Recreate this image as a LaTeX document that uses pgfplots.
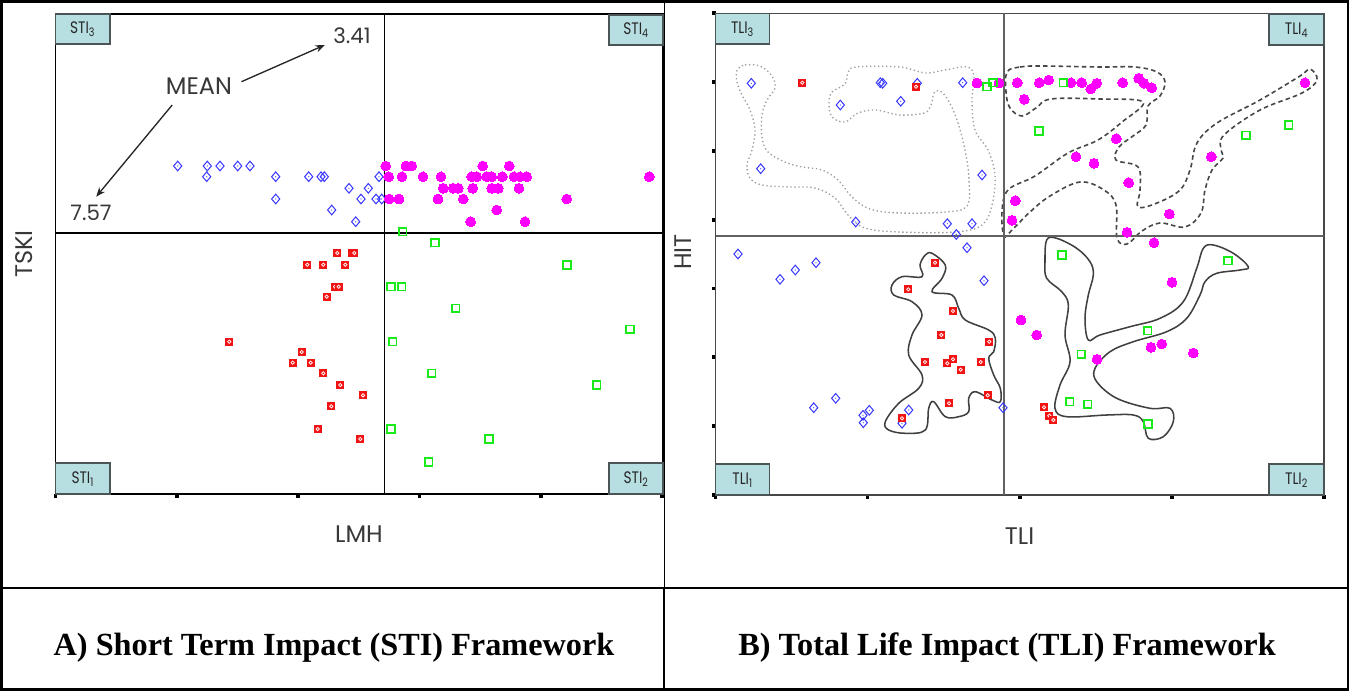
\documentclass[border=0pt]{standalone}
\usepackage{fontspec}
\setmainfont{Liberation Serif}
\newfontfamily\gothic{Poppins}
\usepackage{pgfplots}
\pgfplotsset{compat=1.18}
\usetikzlibrary{arrows.meta}

\definecolor{mblue}{RGB}{55,55,255}
\definecolor{mmag}{RGB}{255,0,255}
\definecolor{mred}{RGB}{240,20,20}
\definecolor{mgreen}{RGB}{25,235,25}
\definecolor{boxfill}{RGB}{183,222,225}
\definecolor{boxdraw}{RGB}{75,85,85}

\pgfdeclareplotmark{bdiam}{%
  \pgfpathmoveto{\pgfqpoint{0pt}{\pgfplotmarksize}}%
  \pgfpathlineto{\pgfqpoint{.85\pgfplotmarksize}{0pt}}%
  \pgfpathlineto{\pgfqpoint{0pt}{-\pgfplotmarksize}}%
  \pgfpathlineto{\pgfqpoint{-.85\pgfplotmarksize}{0pt}}%
  \pgfpathclose
  \pgfusepathqstroke
  \pgfpathcircle{\pgfpointorigin}{.45pt}%
  \pgfusepathqfill
}
\pgfdeclareplotmark{rsq}{%
  \pgfpathrectangle{\pgfqpoint{-\pgfplotmarksize}{-\pgfplotmarksize}}{\pgfqpoint{2\pgfplotmarksize}{2\pgfplotmarksize}}%
  \pgfusepathqfill
  \pgfscope
  \pgfsetstrokecolor{white}%
  \pgfsetlinewidth{.55pt}%
  \pgfpathcircle{\pgfpointorigin}{.42\pgfplotmarksize}%
  \pgfusepathqstroke
  \endpgfscope
}

\pgfplotsset{
  panel/.style={scale only axis, anchor=center, y dir=reverse,
    xticklabel=\empty, yticklabel=\empty, tick align=outside,
    major tick length=2.8pt, tick style={line width=2.8pt, black},
    xtick pos=left, ytick pos=left, clip=false},
  bpts/.style={only marks, mark=bdiam, mark size=3.6pt, mark options={draw=mblue, fill=mblue, line width=.75pt}},
  mpts/.style={only marks, mark=*, mark size=3.7pt, mark options={draw=mmag, fill=mmag, line width=0pt}},
  rpts/.style={only marks, mark=rsq, mark size=3.0pt, mark options={fill=mred}},
  gpts/.style={only marks, mark=square, mark size=2.9pt, mark options={draw=mgreen, line width=1.1pt}},
}

\begin{document}
\begin{tikzpicture}
\fill[white] (0,0) rectangle (1011.75pt,-518.25pt);
\useasboundingbox (0,0) rectangle (1011.75pt,-518.25pt);

% ---------------- Panel A: STI ----------------
\begin{axis}[panel, at={(269.4375pt,-190.5pt)},
  width=455.625pt, height=360pt,
  xmin=55.5, xmax=663, ymin=14, ymax=494,
  xtick={55.5,176.8,298.1,419.4,540.7,662}, ytick=\empty,
  axis line style={black, line width=1pt}]
\addplot[black, line width=1pt] coordinates {(384.3,14) (384.3,494)};
\addplot[black, line width=1pt] coordinates {(55.5,233) (663,233)};
% blue diamonds
\addplot[bpts] coordinates {
(177.7,166) (207.3,166) (220,166) (237.7,166) (250,166)
(206.7,176.7) (275.7,176.7) (308.7,176.7) (321,176.7) (324.3,176.7) (379,176.7)
(349,188.3) (368.3,188.3)
(275.7,199) (361,199) (376,199) (381.7,199)
(331.7,210) (355.7,221.7)};
% magenta circles
\addplot[mpts] coordinates {
(385.7,166) (406,166) (411.7,166) (482.7,166) (509.3,166)
(388.7,176.7) (402,176.7) (423,176.7) (441,176.7) (471.7,176.7) (476.7,176.7)
(486.7,176.7) (491.7,176.7) (502.3,176.7) (514,176.7) (520,176.7) (526.7,176.7) (649.3,176.7)
(443.3,188.3) (453.3,188.3) (458.3,188.3) (472.7,188.3) (491.7,188.3) (498.3,188.3) (519,188.3)
(389.3,199) (399,199) (438,199) (463.3,199) (566.7,199)
(496.7,210) (470.7,221.7) (525,221.7)};
% red squares
\addplot[rpts] coordinates {
(337.3,253) (351.7,253) (354.3,253)
(307.3,264.7) (323.3,264.7) (345.3,264.7)
(335,286.7) (338.7,286.7) (326.7,296.7)
(229.3,341.7) (301.7,352) (292.7,362.7) (310.7,362.7)
(323.3,373.3) (340.3,385) (363,395.3) (331.3,406.3)
(317.7,429) (360.3,439)};
% green squares
\addplot[gpts] coordinates {
(402.7,231.7) (435,242.7) (567,265) (391,286.7) (401.7,286.7) (455.7,308.3)
(630,329.3) (392.7,341.7) (431.7,373.3) (596.7,385) (391,429) (489,439) (428.7,462)};
\end{axis}

% ---------------- Panel B: TLI ----------------
\begin{axis}[panel, at={(764.775pt,-190.6125pt)},
  width=456.3pt, height=361.275pt,
  xmin=715.5, xmax=1323.9, ymin=13.3, ymax=495,
  xtick={715.5,867.6,1019.7,1171.8,1323.9},
  ytick={13.3,82.1,150.9,219.7,288.5,357.3,426.1,495},
  axis line style={black!72, line width=1.2pt}]
% contours
\addplot[black!38, dotted, line width=1pt, smooth cycle, tension=.6] coordinates {
(737,70) (745,65) (760,66) (772,76) (775,88) (767,100) (762,115) (762,137) (768,152)
(785,162) (802,167) (822,170) (838,180) (852,197) (870,209) (900,213) (945,212)
(967,206) (969,180) (965,150) (957,120) (948,100) (940,91) (934,93) (931,105)
(924,113) (900,115) (876,110) (858,113) (845,122) (832,117) (829,103) (832,92)
(845,84) (848,73) (856,67) (900,67) (925,73) (945,70) (968,67) (974,78) (972,100)
(975,130) (988,150) (995,175) (992,205) (982,225) (955,232) (900,232) (865,228)
(848,215) (835,198) (815,188) (790,187) (762,185) (750,178) (747,165) (752,150)
(755,130) (750,110) (742,95) (737,82)};
\addplot[black!72, dash pattern=on 3.4pt off 2.4pt, line width=1.2pt, smooth cycle, tension=.6] coordinates {
(1007,72) (1020,67) (1040,66) (1100,67) (1135,67) (1157,72) (1165,82) (1160,96)
(1148,106) (1146,125) (1133,136) (1119,147) (1116,160) (1138,167) (1140,190)
(1138,207) (1157,203) (1180,190) (1190,170) (1197,143) (1217,123) (1260,100)
(1300,76) (1310,69) (1317,80) (1302,93) (1260,110) (1224,135) (1221,150) (1223,158)
(1212,170) (1205,190) (1201,213) (1185,227) (1160,223) (1142,231) (1127,244)
(1117,238) (1116,205) (1104,190) (1080,182) (1050,196) (1030,212) (1012,230)
(1004,236) (1002,212) (1008,190) (1035,176) (1068,153) (1098,140) (1122,122)
(1143,102) (1100,99) (1051,99) (1036,108) (1022,116) (1010,108) (1006,92)};
\addplot[black!75, line width=1.15pt, smooth cycle, tension=.6] coordinates {
(925.3,255) (932,253.3) (945.3,265) (942,278.3) (932,291.7) (952,295) (958.7,308.3)
(965.3,320) (988.7,330) (995.3,338) (993.7,351.7) (988.7,358.3) (993.7,375)
(1000.3,388.3) (1000.3,401.7) (992,400) (975.3,391.7) (968.7,398.3) (968.7,411.7)
(958.7,416.7) (945.3,416.7) (933.7,401.7) (928.7,408.3) (925.3,430) (905.3,433.3)
(888.7,430) (885.3,421.7) (898.7,403.3) (918.7,388.3) (922,375) (908.7,355)
(912,335) (922,315) (912,301.7) (893.7,295) (892,285) (902,276.7) (922,276.7) (920,265)};
\addplot[black!75, line width=1.15pt, smooth cycle, tension=.6] coordinates {
(1046.7,240) (1056.7,238.3) (1076.7,248.3) (1090,261.7) (1093.3,275) (1088.3,295)
(1085,318.3) (1088.3,340) (1100,335) (1130,326.7) (1160,318.3) (1183.3,301.7)
(1196.7,268.3) (1203.3,248.3) (1213.3,245) (1233.3,253.3) (1248.3,266.7) (1240,270)
(1216.7,273.3) (1205,281.7) (1200,295) (1186.7,318.3) (1166.7,331.7) (1133.3,341.7)
(1110,351.7) (1095,368.3) (1096.7,381.7) (1116.7,398.3) (1150,408.3) (1170,408.3)
(1173.3,421.7) (1163.3,436.7) (1148.3,438.3) (1143.3,421.7) (1133.3,415) (1106.7,415)
(1066.7,416.7) (1055,408.3) (1060,385) (1070,361.7) (1065,335) (1068.3,305)
(1061.7,291.7) (1046.7,278.3) (1045,261.7)};
% mean lines
\addplot[black!62, line width=1.5pt] coordinates {(1004.3,13.3) (1004.3,495)};
\addplot[black!62, line width=1.5pt] coordinates {(715.5,235.7) (1323.9,235.7)};
% blue diamonds
\addplot[bpts] coordinates {
(751.3,83.3) (880.3,82.7) (882.7,83.3) (917.3,83.3) (962.7,82.7) (840.3,105) (900.7,101.3)
(760.7,168.7) (982,175) (855.7,222) (947.3,223.7) (972,223.7) (956.3,234.5) (967,247.7)
(738,254) (816,262.7) (795.3,270) (780,279.3) (984,280.7) (835.7,398.3) (813.7,407.7)
(869.3,410.3) (863,415.3) (863.3,422.7) (908.7,410) (902,423.3) (1003,407.7)};
% red squares
\addplot[rpts] coordinates {
(802.3,82.7) (916,86.7) (935,262.7) (908.3,289.3) (953,311) (941.3,335) (989.3,341.7)
(925,362) (953,359.3) (947.3,363.3) (960.7,369.7) (980.7,362) (987.7,395.3) (949,403.3)
(902,418.3) (1044,407.3) (1049.3,415.7) (1053.3,420)};
% magenta circles
\addplot[mpts] coordinates {
(977,83) (999,83) (1017.3,82.7) (1039.3,82.7) (1048.7,80) (1071,82.7) (1081.7,82.7)
(1090.7,89) (1096.7,83.3) (1122.7,82.7) (1138.7,78.3) (1144,83.3) (1151.7,87.7)
(1024.3,99.3) (1305,82.7) (1116.3,138.7) (1076,156.7) (1094,163.3) (1211.3,156.7)
(1128.7,182.7) (1015.3,200.7) (1012,220.3) (1169.3,214) (1127,232.3) (1154,242.7)
(1172,282.3) (1021,320) (1036.7,335) (1151,347.3) (1161.7,344) (1193.3,353) (1097,359.3)};
% green squares
\addplot[gpts] coordinates {
(987,86.7) (993,82.7) (1063.3,82.7) (1039,131) (1246,135.3) (1288.7,125)
(1062,255) (1228,260.7) (1147.7,330.7) (1081.3,354.3) (1069.7,401.7) (1087.7,404.3) (1148,424)};
\end{axis}

% ---------------- decorations (pixel coordinates) ----------------
\begin{scope}[x=0.75pt, y=-0.75pt]
\draw[line width=1.9pt] (1.25,1.25) rectangle (1347.75,689.75);
\draw[line width=1.9pt] (0,588) -- (1349,588);
\draw[line width=1.4pt] (664.5,0) -- (664.5,588);
\draw[line width=0.8pt] (664,588) -- (664,691);

\tikzset{qbox/.style={fill=boxfill, draw=boxdraw, line width=1.1pt},
  qlab/.style={font=\gothic\fontsize{12.5pt}{14pt}\selectfont, xscale=.82, inner sep=0pt, text=black!85},
  alab/.style={font=\gothic\fontsize{18pt}{20pt}\selectfont, inner sep=0pt, text=black!78}}
\draw[qbox] (55.5,14) rectangle (110,44);   \node[qlab] at (82.7,29.5) {STI\textsubscript{3}};
\draw[qbox] (609,15) rectangle (663,45);    \node[qlab] at (636,30.5) {STI\textsubscript{4}};
\draw[qbox] (55.5,463) rectangle (110,494); \node[qlab] at (82.7,479) {STI\textsubscript{1}};
\draw[qbox] (609,463) rectangle (663,494);  \node[qlab] at (636,479) {STI\textsubscript{2}};
\draw[qbox] (715.5,13.3) rectangle (769.6,44); \node[qlab] at (742.5,29) {TLI\textsubscript{3}};
\draw[qbox] (1269,14) rectangle (1324,45);     \node[qlab] at (1296.5,30) {TLI\textsubscript{4}};
\draw[qbox] (715.5,464) rectangle (769.6,495); \node[qlab] at (742.5,480) {TLI\textsubscript{1}};
\draw[qbox] (1269,464) rectangle (1324,495);   \node[qlab] at (1296.5,480) {TLI\textsubscript{2}};

\node[alab, rotate=90] at (24.5,254) {TSKI};
\node[alab] at (359,534) {LMH};
\node[alab, rotate=90] at (683.5,252) {HIT};
\node[alab] at (1019.6,536) {TLI};

\node[alab] at (199,86) {MEAN};
\node[alab, font=\gothic\fontsize{16pt}{18pt}\selectfont] at (352,36) {3.41};
\node[alab, font=\gothic\fontsize{16pt}{18pt}\selectfont] at (91,213) {7.57};
\draw[-{Stealth[length=7pt,width=5.5pt]}, line width=1pt, black!85] (241.5,81.7) -- (324.8,45);
\draw[-{Stealth[length=7pt,width=5.5pt]}, line width=1pt, black!85] (172.2,105) -- (96.2,196.7);

\node[anchor=base, font=\bfseries\fontsize{24.2pt}{28pt}\selectfont, inner sep=0pt] at (334,655) {A) Short Term Impact (STI) Framework};
\node[anchor=base, font=\bfseries\fontsize{24.2pt}{28pt}\selectfont, inner sep=0pt] at (1007,655) {B) Total Life Impact (TLI) Framework};
\end{scope}
\end{tikzpicture}
\end{document}
